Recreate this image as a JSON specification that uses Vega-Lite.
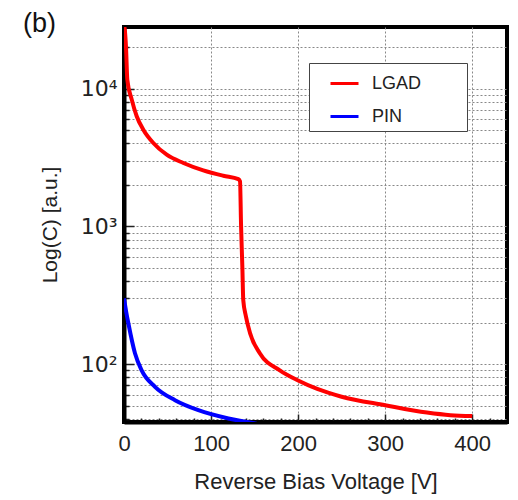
{
  "$schema": "https://vega.github.io/schema/vega-lite/v6.json",
  "autosize": "none",
  "width": 383,
  "height": 395,
  "padding": {"left": 124, "top": 27, "right": 11, "bottom": 78},
  "background": "white",
  "title": {"text": "(b)", "anchor": "start", "frame": "group", "dx": -101, "dy": 32, "baseline": "alphabetic", "offset": 0, "fontSize": 27, "font": "Liberation Sans", "fontWeight": "normal", "color": "#111"},
  "config": {
    "view": {"stroke": "black", "strokeWidth": 4},
    "font": "Liberation Sans"
  },
  "data": {"values": [
    {"series": "LGAD", "V": 0.5, "C": 28000},
    {"series": "LGAD", "V": 1.1, "C": 26000},
    {"series": "LGAD", "V": 2.3, "C": 20000},
    {"series": "LGAD", "V": 3.8, "C": 11620},
    {"series": "LGAD", "V": 8.9, "C": 8316},
    {"series": "LGAD", "V": 14.6, "C": 6297},
    {"series": "LGAD", "V": 22.2, "C": 5033},
    {"series": "LGAD", "V": 33.7, "C": 4029},
    {"series": "LGAD", "V": 49.1, "C": 3311},
    {"series": "LGAD", "V": 68.2, "C": 2884},
    {"series": "LGAD", "V": 91.1, "C": 2548},
    {"series": "LGAD", "V": 114.1, "C": 2330},
    {"series": "LGAD", "V": 131.4, "C": 2203},
    {"series": "LGAD", "V": 133.3, "C": 2118},
    {"series": "LGAD", "V": 134.5, "C": 1000},
    {"series": "LGAD", "V": 136, "C": 500},
    {"series": "LGAD", "V": 137, "C": 292},
    {"series": "LGAD", "V": 140, "C": 223},
    {"series": "LGAD", "V": 144.8, "C": 168},
    {"series": "LGAD", "V": 156, "C": 120},
    {"series": "LGAD", "V": 179, "C": 90},
    {"series": "LGAD", "V": 200, "C": 76},
    {"series": "LGAD", "V": 222, "C": 66},
    {"series": "LGAD", "V": 250, "C": 58},
    {"series": "LGAD", "V": 300, "C": 50.3},
    {"series": "LGAD", "V": 348, "C": 44.5},
    {"series": "LGAD", "V": 375, "C": 42.6},
    {"series": "LGAD", "V": 400, "C": 42},
    {"series": "PIN", "V": 0, "C": 300},
    {"series": "PIN", "V": 2.5, "C": 240},
    {"series": "PIN", "V": 5, "C": 198},
    {"series": "PIN", "V": 12.6, "C": 120},
    {"series": "PIN", "V": 20.3, "C": 90},
    {"series": "PIN", "V": 35.6, "C": 68.4},
    {"series": "PIN", "V": 58.6, "C": 54.7},
    {"series": "PIN", "V": 85.4, "C": 46.3},
    {"series": "PIN", "V": 120, "C": 40.3},
    {"series": "PIN", "V": 152, "C": 37}
  ]},
  "mark": {"type": "line", "strokeWidth": 4, "clip": true, "interpolate": "monotone"},
  "encoding": {
    "x": {
      "field": "V", "type": "quantitative",
      "scale": {"domain": [0, 440], "nice": false, "zero": false},
      "axis": {
        "title": "Reverse Bias Voltage [V]",
        "titleFontSize": 22, "titleFontWeight": "normal", "titleColor": "#222", "titlePadding": 17,
        "values": [0, 20, 40, 60, 80, 100, 120, 140, 160, 180, 200, 220, 240, 260, 280, 300, 320, 340, 360, 380, 400, 420],
        "labelExpr": "datum.value % 100 === 0 ? datum.label : ''",
        "labelFontSize": 22, "labelColor": "#222", "labelPadding": 19, "labelFlush": false,
        "domainColor": "black", "domainWidth": 4,
        "tickColor": "#222", "tickWidth": 1.5,
        "tickSize": {"condition": {"test": "datum.value % 100 === 0", "value": -8}, "value": -4},
        "grid": true, "gridColor": "#888", "gridDash": [2, 2], "gridWidth": 1,
        "gridOpacity": {"condition": {"test": "datum.value % 100 === 0", "value": 1}, "value": 0}
      }
    },
    "y": {
      "field": "C", "type": "quantitative",
      "scale": {"type": "log", "domain": [38, 28000], "nice": false},
      "axis": {
        "title": "Log(C) [a.u.]",
        "titleFontSize": 21, "titleFontWeight": "normal", "titleColor": "#222", "titlePadding": 20,
        "values": [40, 50, 60, 70, 80, 90, 100, 200, 300, 400, 500, 600, 700, 800, 900, 1000, 2000, 3000, 4000, 5000, 6000, 7000, 8000, 9000, 10000, 20000],
        "labelExpr": "datum.value === 100 ? '10²' : datum.value === 1000 ? '10³' : datum.value === 10000 ? '10⁴' : ''",
        "labelFont": "DejaVu Sans",
        "labelFontSize": 22, "labelColor": "#222", "labelPadding": 17,
        "domainColor": "black", "domainWidth": 4,
        "tickColor": "#222", "tickWidth": 1.5,
        "tickSize": {"condition": {"test": "datum.value === 100 || datum.value === 1000 || datum.value === 10000", "value": -10}, "value": -5},
        "grid": true, "gridColor": "#888", "gridDash": [2, 2], "gridWidth": 1
      }
    },
    "color": {
      "field": "series", "type": "nominal",
      "scale": {"domain": ["LGAD", "PIN"], "range": ["#ff0000", "#0000ff"]},
      "legend": {
        "title": null, "orient": "none", "legendX": 185, "legendY": 36,
        "symbolType": "stroke", "symbolSize": 784, "symbolStrokeWidth": 3,
        "labelFontSize": 18, "labelColor": "#222", "labelOffset": 12,
        "labelExpr": "datum.label + '        \u200b'",
        "fillColor": "white", "strokeColor": "#444",
        "padding": 5, "rowPadding": 8, "symbolOffset": 15
      }
    }
  }
}
